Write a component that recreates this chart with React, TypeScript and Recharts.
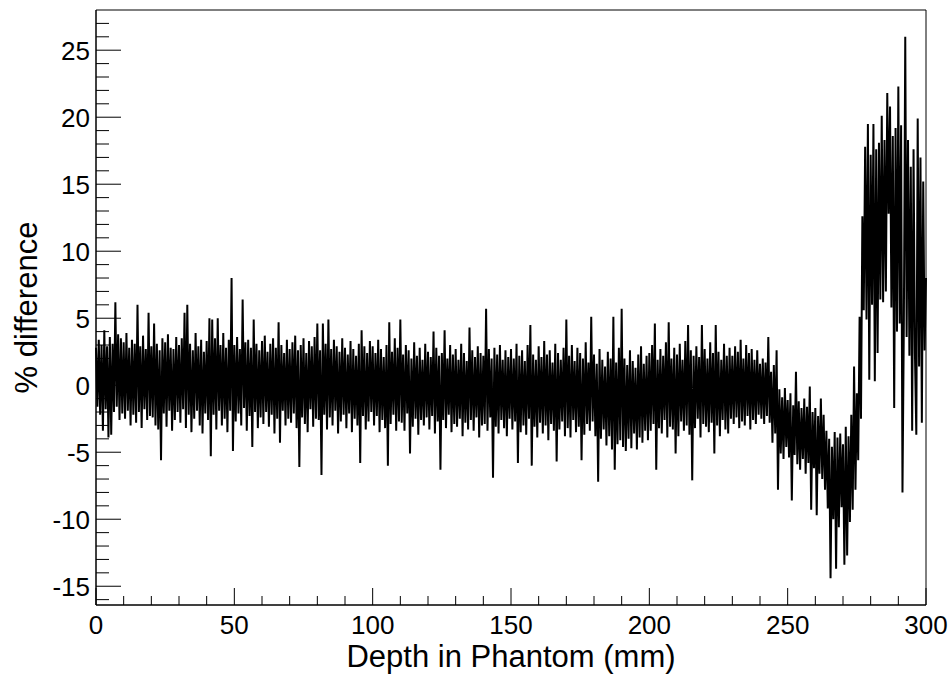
import { LineChart, Line, XAxis, YAxis, ReferenceArea } from 'recharts'

const STEP_MM = 0.5

const diff0to50 = [
  2.8, -1.6, 3.4, -2.2, 3.0, -3.4, 4.1, -1.8, 2.9, -3.9,
  3.6, -3.7, 3.1, -2.0, 6.2, -1.6, 3.8, -2.6, 3.5, -2.1,
  3.2, -2.5, 3.9, -1.9, 2.8, -3.0, 3.4, -2.2, 3.1, -2.8,
  6.0, -2.0, 2.9, -3.2, 3.7, -1.8, 2.7, -2.6, 5.4, -2.3,
  2.9, -2.4, 4.6, -3.0, 3.1, -3.3, 2.6, -5.6, 3.5, -2.1,
  3.2, -3.1, 3.8, -1.9, 2.8, -3.4, 2.7, -2.6, 3.6, -2.0,
  3.0, -2.8, 3.5, -1.8, 5.4, -3.2, 6.0, -2.2, 3.1, -3.5,
  2.6, -2.5, 3.9, -1.9, 2.9, -3.0, 3.4, -3.6, 2.5, -2.1,
  3.3, -2.6, 5.0, -5.3, 4.9, -2.2, 3.5, -3.3, 5.0, -1.9,
  3.0, -3.0, 3.9, -2.5, 2.8, -3.5, 3.4, -1.9, 8.0, -4.9,
]

const diff50to100 = [
  3.0, -2.7, 3.6, -2.1, 2.7, -3.0, 6.4, -1.7, 3.2, -3.4,
  3.4, -2.3, 2.8, -4.6, 4.9, -2.0, 3.1, -3.2, 2.6, -2.4,
  3.3, -2.9, 3.7, -2.0, 2.5, -3.1, 3.1, -2.2, 3.5, -3.6,
  2.8, -2.5, 4.7, -4.3, 3.0, -1.9, 2.4, -3.0, 3.4, -2.5,
  2.7, -2.8, 3.2, -2.1, 3.7, -3.2, 2.6, -6.1, 3.0, -2.4,
  3.5, -2.9, 2.4, -3.5, 3.3, -1.8, 2.9, -3.1, 3.6, -2.5,
  4.6, -2.6, 2.6, -6.7, 4.6, -2.2, 3.1, -3.3, 4.9, -2.4,
  2.7, -3.0, 3.4, -1.9, 2.9, -3.6, 2.5, -2.7, 3.5, -2.2,
  2.8, -3.2, 2.3, -2.1, 3.3, -3.5, 2.7, -2.5, 2.2, -3.0,
  3.1, -5.8, 4.1, -2.3, 2.9, -3.3, 2.4, -2.7, 3.3, -2.0,
]

const diff100to150 = [
  2.9, -3.0, 2.4, -2.3, 3.4, -3.5, 2.7, -2.6, 2.1, -3.2,
  3.0, -6.0, 4.7, -2.9, 2.5, -2.2, 3.5, -3.4, 2.8, -2.7,
  4.9, -2.8, 2.3, -3.4, 3.0, -2.1, 2.6, -5.1, 2.0, -3.1,
  3.2, -2.5, 2.2, -3.7, 2.8, -2.6, 1.9, -3.0, 3.1, -2.4,
  2.5, -3.3, 2.1, -2.3, 4.0, -3.6, 2.8, -2.7, 2.2, -6.3,
  2.4, -2.6, 4.1, -3.2, 2.0, -2.2, 3.0, -3.5, 2.3, -2.9,
  2.7, -3.1, 1.9, -2.5, 3.1, -3.8, 2.4, -2.8, 1.8, -3.3,
  4.3, -2.6, 2.6, -3.4, 2.1, -2.4, 2.9, -3.9, 2.4, -3.0,
  2.2, -2.9, 5.7, -3.4, 2.7, -2.4, 2.0, -6.9, 2.8, -3.1,
  2.3, -3.6, 3.0, -2.6, 1.9, -3.2, 2.6, -3.8, 2.1, -2.5,
]

const diff150to200 = [
  2.7, -3.3, 2.0, -2.7, 3.1, -5.8, 2.2, -3.5, 2.6, -3.0,
  1.8, -3.7, 3.0, -2.5, 4.5, -6.0, 2.3, -3.1, 1.9, -3.9,
  2.9, -2.8, 2.1, -3.6, 3.3, -3.0, 2.3, -4.1, 2.6, -2.9,
  1.7, -3.4, 3.1, -5.7, 2.4, -3.3, 1.9, -2.7, 2.8, -3.8,
  4.9, -3.2, 2.2, -3.9, 3.0, -2.6, 1.8, -3.5, 2.8, -3.1,
  2.4, -5.6, 2.0, -3.7, 3.2, -2.9, 1.7, -3.4, 5.1, -2.7,
  2.3, -3.8, 1.6, -7.2, 2.7, -4.0, 1.9, -3.3, 1.4, -4.5,
  2.5, -3.8, 2.0, -4.8, 5.1, -6.3, 1.7, -4.4, 2.8, -4.1,
  5.7, -4.6, 2.0, -4.9, 1.5, -4.0, 2.6, -4.7, 1.8, -3.6,
  1.3, -4.8, 2.3, -3.9, 2.9, -4.3, 1.6, -3.4, 2.2, -4.1,
]

const diff200to250 = [
  2.4, -3.4, 3.0, -2.9, 4.6, -6.3, 1.9, -3.2, 2.7, -3.6,
  2.2, -2.6, 3.2, -3.9, 4.7, -3.1, 2.0, -3.3, 2.8, -5.1,
  2.3, -3.8, 3.1, -2.7, 1.9, -3.4, 3.3, -3.0, 4.5, -3.7,
  2.6, -7.1, 2.2, -3.2, 2.9, -2.5, 2.1, -3.9, 4.5, -2.9,
  2.7, -3.1, 2.0, -3.5, 3.2, -2.8, 2.4, -5.1, 4.5, -3.0,
  2.5, -3.8, 1.9, -2.6, 3.1, -3.3, 2.2, -3.6, 2.8, -2.5,
  2.2, -2.9, 2.9, -2.4, 2.5, -3.2, 3.4, -2.7, 2.0, -3.0,
  3.0, -2.3, 2.4, -3.3, 2.7, -2.6, 1.9, -2.9, 2.6, -2.2,
  1.6, -2.5, 2.0, -2.9, 1.7, -2.3, 3.6, -2.8, 1.0, -4.3,
  1.5, -3.6, 2.6, -7.8, -0.3, -5.1, -0.9, -5.5, -0.2, -4.6,
]

const diff250to300 = [
  -1.1, -5.4, -0.6, -8.6, -1.5, -5.2, 1.0, -5.9, -1.2, -6.3,
  -1.7, -5.5, -1.0, -6.6, -1.6, -5.8, -0.1, -9.3, -2.0, -6.2,
  -1.7, -9.7, -2.3, -6.6, -1.0, -7.0, -2.2, -7.8, -3.4, -9.2,
  -4.0, -14.4, -4.6, -10.0, -3.5, -13.7, -3.9, -10.6, -3.6, -9.1,
  -4.4, -13.4, -3.1, -12.7, -3.8, -10.2, -2.2, -9.3, 1.4, -7.8,
  -0.6, -5.6, 5.1, -2.5, 12.6, 5.6, 17.8, 4.9, 19.5, 0.4,
  17.2, 6.0, 19.5, 0.3, 17.6, 2.4, 18.1, 6.4, 20.1, 6.2,
  18.3, 7.0, 21.8, 12.8, 20.8, 5.8, 18.6, -1.7, 19.2, 4.0,
  22.3, 4.6, 19.4, -8.0, 4.8, 26.0, 3.6, 18.3, 2.2, 16.3,
  -3.4, 17.6, 2.4, -3.7, 19.9, 1.4, 17.0, -2.8, 15.2, 2.6,
  8.0,
]

const yTicks = [
  -16, -15, -14, -13, -12, -11, -10, -9, -8, -7, -6, -5, -4, -3, -2, -1, 0,
  1, 2, 3, 4, 5, 6, 7, 8, 9, 10, 11, 12, 13, 14, 15, 16, 17, 18, 19, 20,
  21, 22, 23, 24, 25, 26, 27,
]
const xTicks = [0, 10, 20, 30, 40, 50, 60, 70, 80, 90, 100, 110, 120, 130, 140, 150,
  160, 170, 180, 190, 200, 210, 220, 230, 240, 250, 260, 270, 280, 290, 300]

const FONT = '"Liberation Sans", Arial, Helvetica, sans-serif'

const diffPct = [...diff0to50, ...diff50to100, ...diff100to150, ...diff150to200, ...diff200to250, ...diff250to300]
const data = diffPct.map((v, i) => ({ depth: i * STEP_MM, diff: v }))

function YTick({ x, y, payload }: any) {
  const v = payload.value
  const major = v % 5 === 0
  return (
    <g>
      <line x1={x} x2={x + (major ? 25 : 13)} y1={y} y2={y} stroke="#000" strokeWidth={1} />
      {major && (
        <text x={x - 6} y={y} dy="0.36em" textAnchor="end" fontSize={26} fontFamily={FONT} fill="#000">
          {v}
        </text>
      )}
    </g>
  )
}

function XTick({ x, y, payload }: any) {
  const v = payload.value
  const major = v % 50 === 0
  return (
    <g>
      <line x1={x} x2={x} y1={y} y2={y - (major ? 17 : 9)} stroke="#000" strokeWidth={1} />
      {major && (
        <text x={x} y={y + 29} textAnchor="middle" fontSize={26} fontFamily={FONT} fill="#000">
          {v}
        </text>
      )}
    </g>
  )
}

function XTitle({ viewBox }: any) {
  return (
    <text x={viewBox.x + viewBox.width / 2} y={667} textAnchor="middle" fontSize={31} fontFamily={FONT} fill="#000">
      Depth in Phantom (mm)
    </text>
  )
}

function YTitle({ viewBox }: any) {
  const cx = 37
  const cy = viewBox.y + viewBox.height / 2
  return (
    <text x={cx} y={cy} transform={`rotate(-90 ${cx} ${cy})`} textAnchor="middle" fontSize={31} fontFamily={FONT} fill="#000">
      % difference
    </text>
  )
}

export default function App() {
  return (
    <div style={{ position: 'absolute', left: 0, top: 0, background: '#fff' }}>
      <LineChart width={952} height={677} data={data} margin={{ top: 10, right: 26, left: 0, bottom: 0 }}>
        <XAxis
          dataKey="depth"
          type="number"
          domain={[0, 300]}
          ticks={xTicks}
          interval={0}
          height={72}
          tickSize={0}
          tickMargin={0}
          tickLine={false}
          axisLine={{ stroke: '#000' }}
          tick={<XTick />}
          label={{ content: (p: any) => <XTitle {...p} /> }}
        />
        <YAxis
          type="number"
          domain={[-16.4, 28]}
          ticks={yTicks}
          interval={0}
          width={96}
          tickSize={0}
          tickMargin={0}
          tickLine={false}
          axisLine={{ stroke: '#000' }}
          tick={<YTick />}
          allowDataOverflow
          label={{ content: (p: any) => <YTitle {...p} /> }}
        />
        <ReferenceArea x1={0} x2={300} y1={-16.4} y2={28} fill="none" stroke="#000" strokeWidth={1} ifOverflow="visible" />
        <Line
          dataKey="diff"
          type="linear"
          stroke="#000"
          strokeWidth={2}
          dot={false}
          isAnimationActive={false}
        />
      </LineChart>
    </div>
  )
}
